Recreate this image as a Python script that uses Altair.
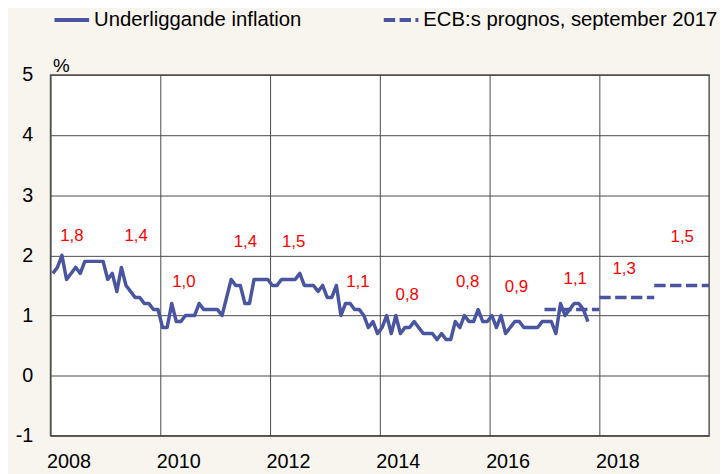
import altair as alt
import pandas as pd

# ---- data ----
S1 = "Underliggande inflation"
S2 = "ECB:s prognos, september 2017"

years = [2008, 2009, 2010, 2011, 2012, 2013, 2014, 2015, 2016, 2017]
core_2008 = [1.7, 1.8, 2.0, 1.6, 1.7, 1.8, 1.7, 1.9, 1.9, 1.9, 1.9, 1.9]
core_2009 = [1.6, 1.7, 1.4, 1.8, 1.5, 1.4, 1.3, 1.3, 1.2, 1.2, 1.1, 1.1]
core_2010 = [0.8, 0.8, 1.2, 0.9, 0.9, 1.0, 1.0, 1.0, 1.2, 1.1, 1.1, 1.1]
core_2011 = [1.1, 1.0, 1.3, 1.6, 1.5, 1.5, 1.2, 1.2, 1.6, 1.6, 1.6, 1.6]
core_2012 = [1.5, 1.5, 1.6, 1.6, 1.6, 1.6, 1.7, 1.5, 1.5, 1.5, 1.4, 1.5]
core_2013 = [1.3, 1.3, 1.5, 1.0, 1.2, 1.2, 1.1, 1.1, 1.0, 0.8, 0.9, 0.7]
core_2014 = [0.8, 1.0, 0.7, 1.0, 0.7, 0.8, 0.8, 0.9, 0.8, 0.7, 0.7, 0.7]
core_2015 = [0.6, 0.7, 0.6, 0.6, 0.9, 0.8, 1.0, 0.9, 0.9, 1.1, 0.9, 0.9]
core_2016 = [1.0, 0.8, 1.0, 0.7, 0.8, 0.9, 0.9, 0.8, 0.8, 0.8, 0.8, 0.9]
core_2017 = [0.9, 0.9, 0.7, 1.2, 1.0, 1.1, 1.2, 1.2, 1.1, 0.9]

ecb_years = [2017, 2018, 2019]
ecb_values = [1.1, 1.3, 1.5]

label_texts = ["1,8", "1,4", "1,0", "1,4", "1,5", "1,1", "0,8", "0,8", "0,9", "1,1", "1,3", "1,5"]
label_x = [2008.39, 2009.56, 2010.43, 2011.55, 2012.43, 2013.60, 2014.50, 2015.60, 2016.49, 2017.56, 2018.45, 2019.51]
label_y = [2.32, 2.32, 1.55, 2.22, 2.22, 1.55, 1.34, 1.55, 1.47, 1.60, 1.78, 2.30]

x_ticks = [2008, 2010, 2012, 2014, 2016, 2018]
y_ticks = [-1, 0, 1, 2, 3, 4, 5]

# ---- tables ----
series = [core_2008, core_2009, core_2010, core_2011, core_2012,
          core_2013, core_2014, core_2015, core_2016, core_2017]
rows = []
for yr, vals in zip(years, series):
    for m, v in enumerate(vals):
        rows.append({"t": yr + (m + 0.5) / 12, "v": v, "serie": S1})
core_df = pd.DataFrame(rows)

ecb_df = pd.DataFrame({
    "t": ecb_years,
    "t2": [y + 1 for y in ecb_years],
    "v": ecb_values,
    "serie": [S2] * len(ecb_years),
})

lab_df = pd.DataFrame({"lx": label_x, "ly": label_y, "txt": label_texts})

LINE = "#4a55a2"
FONT = "Liberation Sans"

xscale = alt.Scale(domain=[2008, 2020], nice=False, zero=False)
yscale = alt.Scale(domain=[-1, 5], nice=False, zero=False)

x_axis = alt.Axis(values=x_ticks, format="d", title=None, labelAlign="left",
                  labelOffset=-4, labelPadding=16, labelFontSize=20, labelBaseline="top",
                  labelFlush=False, labelColor="black", grid=True, gridColor="#4a4a4a",
                  gridWidth=1, domain=False, ticks=False)
y_axis = alt.Axis(values=y_ticks, labelExpr="'' + datum.value", title="%", titleAngle=0,
                  titleX=2, titleY=-3, titleAlign="left", titleBaseline="alphabetic",
                  titleFontSize=19, titleFontWeight="normal", titleColor="black",
                  labelFontSize=20, labelPadding=18, labelColor="black", grid=True,
                  gridColor="#4a4a4a", gridWidth=1, domain=False, ticks=False)

dash = alt.StrokeDash(
    "serie:N",
    scale=alt.Scale(domain=[S1, S2], range=[[1, 0], [11.5, 4.5]]),
    legend=alt.Legend(title=None, orient="none", legendX=2, legendY=-75,
                      direction="horizontal", symbolType="stroke", symbolSize=1225,
                      symbolStrokeWidth=4, symbolStrokeColor=LINE, labelFontSize=20.5,
                      labelColor="black", columnPadding=75, labelOffset=3, labelLimit=400),
)

line = alt.Chart(core_df).mark_line(color=LINE, strokeWidth=3.5, strokeJoin="round").encode(
    x=alt.X("t:Q", scale=xscale, axis=x_axis),
    y=alt.Y("v:Q", scale=yscale, axis=y_axis),
    strokeDash=dash,
)

fc = alt.Chart(ecb_df).mark_rule(color=LINE, strokeWidth=3.5).encode(
    x=alt.X("t:Q", scale=xscale),
    x2="t2:Q",
    y=alt.Y("v:Q", scale=yscale),
    strokeDash=dash,
)

labels = alt.Chart(lab_df).mark_text(color="#ff0000", fontSize=17, font=FONT).encode(
    x=alt.X("lx:Q", scale=xscale),
    y=alt.Y("ly:Q", scale=yscale),
    text="txt:N",
)

chart = alt.layer(line, fc, labels).properties(
    width=666, height=365,
    autosize=alt.AutoSizeParams(type="none"),
    padding={"left": 43, "top": 65, "right": 11, "bottom": 40},
    background="#f8f4ee",
).configure(font=FONT).configure_view(fill="white", stroke="#555555", strokeWidth=1.5)

chart.save("out.html", embed_options={"renderer": "svg", "actions": False})
